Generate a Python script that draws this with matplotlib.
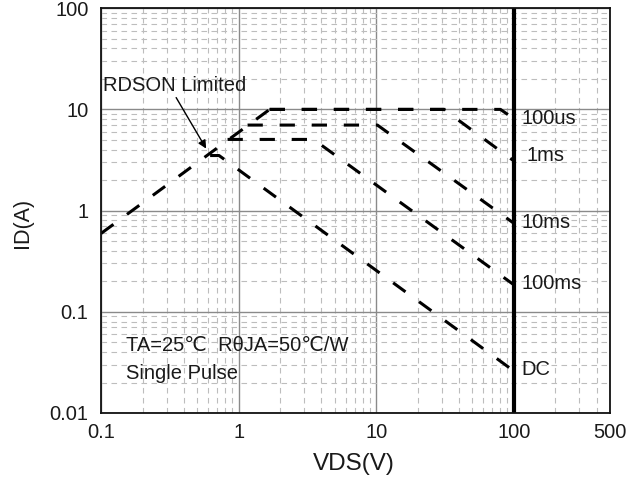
import numpy as np
import matplotlib
matplotlib.use('Agg')
import matplotlib.pyplot as plt
from matplotlib.ticker import FixedLocator, NullFormatter, LogLocator

plt.rcParams['font.family'] = ['Liberation Sans', 'DejaVu Sans']

# %% data (V, A)
rdson_v = [0.1, 1.68]
rdson_i = [0.595, 10.0]

us100_v = [1.68, 80, 100]
us100_i = [10.0, 10.0, 8.1]

ms1_v = [1.68, 31, 100]
ms1_i = [10.0, 10.0, 3.1]

ms10_v = [1.16, 10.2, 100]
ms10_i = [7.0, 7.0, 0.75]

ms100_v = [0.83, 3.5, 100]
ms100_i = [5.05, 5.05, 0.185]

dc_v = [0.62, 0.72, 100]
dc_i = [3.5, 3.5, 0.026]

curve_labels = ['100us', '1ms', '10ms', '100ms', 'DC']
label_v = [114, 124, 114, 114, 114]
label_i = [8.1, 3.5, 0.76, 0.19, 0.027]

xticks = [0.1, 1, 10, 100, 500]
xticklabels = ['0.1', '1', '10', '100', '500']
yticks = [0.01, 0.1, 1, 10, 100]
yticklabels = ['0.01', '0.1', '1', '10', '100']

# %% plotting
fig = plt.figure(figsize=(6.36, 4.83), dpi=100)
ax = fig.add_axes([0.159, 0.145, 0.800, 0.838])
ax.set_xscale('log')
ax.set_yscale('log')
ax.set_xlim(0.1, 500)
ax.set_ylim(0.01, 100)

ax.xaxis.set_major_locator(FixedLocator(xticks))
ax.set_xticklabels(xticklabels)
ax.yaxis.set_major_locator(FixedLocator(yticks))
ax.set_yticklabels(yticklabels)
ax.xaxis.set_minor_locator(LogLocator(base=10, subs=np.arange(2, 10)))
ax.yaxis.set_minor_locator(LogLocator(base=10, subs=np.arange(2, 10)))
ax.xaxis.set_minor_formatter(NullFormatter())
ax.yaxis.set_minor_formatter(NullFormatter())
ax.tick_params(which='both', length=0, labelsize=14.5, colors='#1a1a1a')
ax.tick_params(axis='y', pad=9)
ax.tick_params(axis='x', pad=7)

ax.grid(True, which='major', color='#8a8a8a', linewidth=1.0, linestyle='-')
ax.grid(True, which='minor', color='#bdbdbd', linewidth=0.8, linestyle=(0, (5, 4)))
ax.set_axisbelow(True)
for s in ax.spines.values():
    s.set_linewidth(1.3)
    s.set_color('#111111')

dash = (0, (5, 5.5))
kw = dict(color='black', linewidth=2.2, linestyle=dash, dash_capstyle='butt')
ax.plot(rdson_v, rdson_i, **kw)
ax.plot(us100_v, us100_i, **kw)
ax.plot(ms1_v, ms1_i, **kw)
ax.plot(ms10_v, ms10_i, **kw)
ax.plot(ms100_v, ms100_i, **kw)
ax.plot(dc_v, dc_i, **kw)

ax.axvline(100, color='black', linewidth=3.0)

for lab, lv, li in zip(curve_labels, label_v, label_i):
    ax.text(lv, li, lab, fontsize=14.5, ha='left', va='center', color='#1a1a1a')

ax.annotate('RDSON Limited', xy=(0.58, 4.1), xytext=(0.103, 17.3),
            fontsize=14.5, ha='left', va='center', color='#1a1a1a',
            arrowprops=dict(arrowstyle='-|>', color='black', lw=1.0,
                            shrinkA=0, shrinkB=0, mutation_scale=12,
                            relpos=(0.5, 0.0)))

ax.text(0.152, 0.046, 'TA=25\u2103  R\u03b8JA=50\u2103/W', fontsize=14.5,
        ha='left', va='center', color='#1a1a1a')
ax.text(0.152, 0.0243, 'Single Pulse', fontsize=14.5,
        ha='left', va='center', color='#1a1a1a')

ax.set_xlabel('VDS(V)', fontsize=17.5, color='#1a1a1a')
ax.set_ylabel('ID(A)', fontsize=15.5, color='#1a1a1a')
ax.xaxis.set_label_coords(0.497, -0.126)
ax.yaxis.set_label_coords(-0.155, 0.47)
ax.xaxis.label.set_va('center')
ax.yaxis.label.set_va('center')

fig.savefig('out.png', dpi=100)
